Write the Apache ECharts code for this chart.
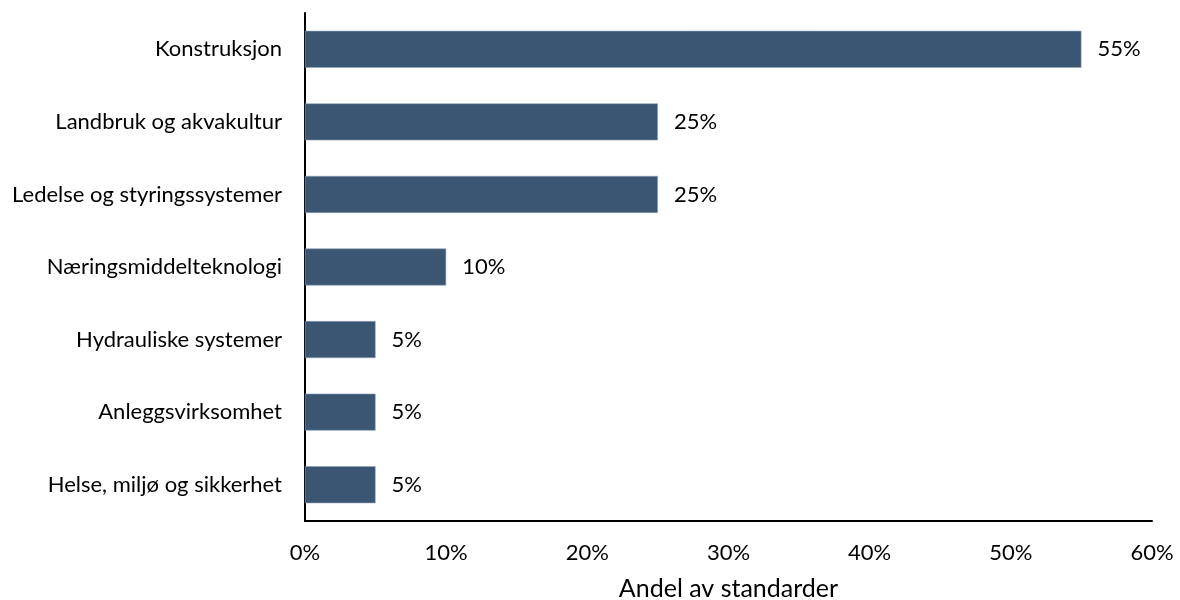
<!DOCTYPE html>
<html><head><meta charset="utf-8">
<script src="https://cdn.jsdelivr.net/npm/echarts@6/dist/echarts.min.js"></script>
<style>html,body{margin:0;padding:0;background:#fff}#c{width:1180px;height:600px}</style>
</head><body><div id="c"></div>
<script>
const categories = ["Konstruksjon","Landbruk og akvakultur","Ledelse og styringssystemer","Næringsmiddelteknologi","Hydrauliske systemer","Anleggsvirksomhet","Helse, miljø og sikkerhet"];
const values = [55,25,25,10,5,5,5];
const axisTitle = "Andel av standarder";
const font = "Lato, 'Open Sans', sans-serif";
const chart = echarts.init(document.getElementById('c'));
chart.setOption({
  animation:false,
  grid:{left:305,right:28,top:13,bottom:79,containLabel:false,outerBoundsMode:'none'},
  xAxis:{type:'value',min:0,max:60,interval:10,
    axisLine:{show:true,lineStyle:{color:'#000',width:2}},
    axisTick:{show:false},splitLine:{show:false},
    axisLabel:{formatter:'{value}%',color:'#000',fontSize:22,fontFamily:font,margin:21},
    name:axisTitle,nameLocation:'middle',nameGap:55,
    nameTextStyle:{color:'#000',fontSize:25,fontFamily:font}},
  yAxis:{type:'category',data:categories,inverse:true,
    axisLine:{show:true,lineStyle:{color:'#000',width:2}},
    axisTick:{show:false},
    axisLabel:{color:'#000',fontSize:22,fontFamily:font,margin:23}},
  series:[{type:'bar',data:values,barCategoryGap:'49%',
    itemStyle:{color:'#3A5673',borderColor:'#8ea2b8',borderWidth:0.6},
    label:{show:true,position:'right',distance:16,formatter:'{c}%',color:'#000',fontSize:22,fontFamily:font}}]
});
</script></body></html>
